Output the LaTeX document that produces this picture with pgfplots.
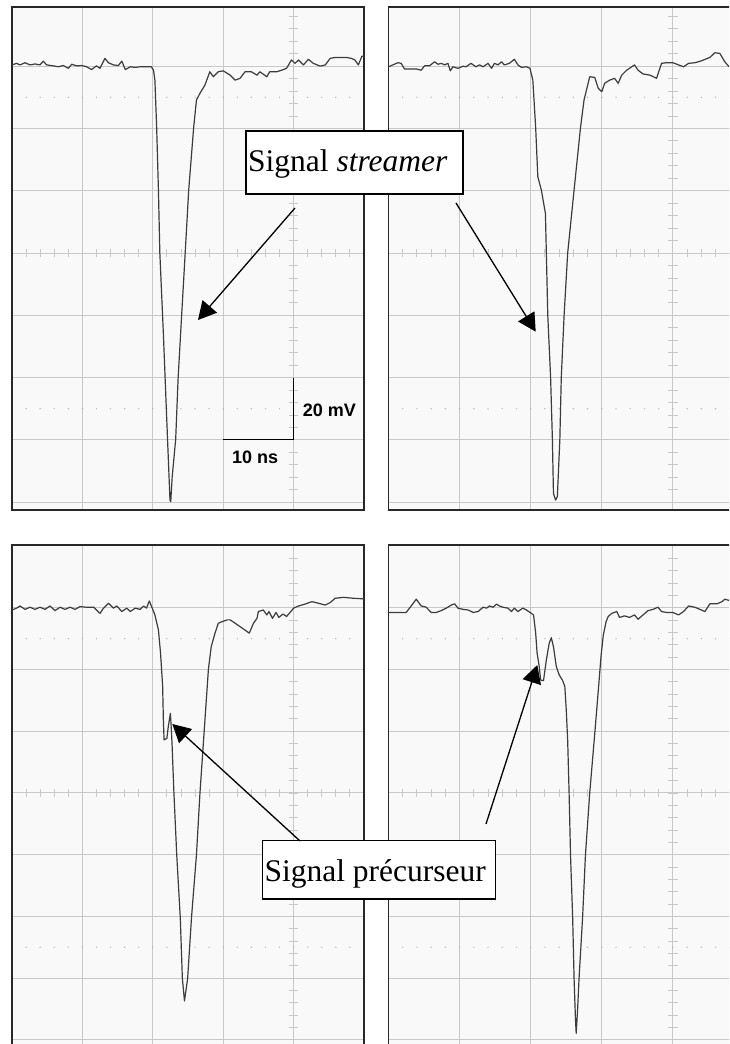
\documentclass[border=0pt]{standalone}
\usepackage{fontspec}
\setmainfont{Liberation Serif}
\setsansfont{Liberation Sans}
\usepackage{pgfplots}
\pgfplotsset{compat=1.18}
\usetikzlibrary{arrows.meta}
\definecolor{bgcol}{RGB}{249,249,249}
\definecolor{gridcol}{RGB}{200,200,200}
\definecolor{dotcol}{RGB}{175,175,175}
\definecolor{framecol}{RGB}{40,40,40}
\definecolor{tracecol}{RGB}{60,60,60}
\newcommand\scopedeco{%
  \pgfplotsinvokeforeach{2,4,...,48}{%
    \draw[gridcol, line width=0.9pt] (axis cs:##1,-1.3) -- (axis cs:##1,1.3);
    \fill[dotcol] (axis cs:##1,50) circle[radius=0.7pt];
    \fill[dotcol] (axis cs:##1,-50) circle[radius=0.7pt];
  }%
  \pgfplotsinvokeforeach{-80,-76,...,76}{%
    \draw[gridcol, line width=0.9pt] (axis cs:39.35,##1) -- (axis cs:40.65,##1);
  }%
}
\pgfplotsset{scopeaxis/.style={
  scale only axis, anchor=south west,
  xmin=0, xmax=50,
  xtick={10,20,30,40}, ytick={-80,-60,-40,-20,0,20,40,60},
  xticklabels={}, yticklabels={},
  major tick length=0pt,
  grid=major, major grid style={draw=gridcol, line width=1pt},
  axis background/.style={fill=bgcol},
  axis line style={draw=framecol, line width=1.6pt},
  clip=true,
}}
\tikzset{trace/.style={draw=tracecol, line width=1.2pt, line join=round}}
\begin{document}
\begin{tikzpicture}[x=1pt,y=1pt]
\useasboundingbox (0,0) rectangle (729,1044);
\begin{scope}
\clip (0,0) rectangle (729,1044);
% Panel 1 (top left)
\begin{axis}[scopeaxis, at={(12pt,534pt)}, width=352pt, height=503pt, ymin=-82.5, ymax=79]
\scopedeco
\addplot[trace] coordinates {(0,60.4)(0.66,60.9)(1.14,60.4)(1.85,61.1)(2.56,60.4)(3.27,60.7)(3.98,60.4)(4.45,61.6)(4.92,60.4)(5.87,60.1)(6.58,59.8)(7.29,60.2)(8.0,59.3)(8.48,60.6)(9.19,60.1)(9.9,60.2)(10.6,59.8)(11.3,58.9)(12.0,60.1)(12.5,59.3)(13.2,62.5)(13.7,61.1)(14.4,60.4)(15.1,60.2)(15.6,61.6)(16.1,58.9)(16.8,59.8)(17.5,59.6)(18.2,59.8)(19.1,59.8)(19.8,59.8)(20.1,58.7)(20.3,55.5)(20.55,40.2)(20.8,20.2)(21.0,0)(21.5,-25.8)(22.06,-57.9)(22.44,-79.3)(22.55,-79.8)(22.75,-72)(23.25,-59.8)(23.6,-40.0)(24.1,-19.9)(24.6,0)(25.1,20.2)(25.8,40.2)(26.2,49.1)(26.7,51.3)(27.4,53.9)(28.1,58.2)(28.6,56.6)(29.3,58.2)(30.0,58.5)(31.0,57.1)(31.7,55.5)(32.4,56.1)(33.1,58.2)(34.0,58.2)(34.8,57.1)(35.2,58.2)(36.2,56.6)(36.6,58.2)(37.6,58.2)(38.3,58.7)(39.0,59.3)(39.7,62.0)(40.2,60.9)(40.7,62.0)(41.4,60.4)(42.1,62.2)(42.8,60.9)(43.8,60.0)(44.5,60.4)(45.2,62.5)(45.9,62.8)(46.6,62.8)(47.5,62.8)(48.2,62.5)(48.7,62.0)(49.2,60.4)(49.7,63.2)(50.0,63.2)};
\draw[black, line width=1pt] (axis cs:40,-40) -- (axis cs:40,-60) -- (axis cs:30,-60);
\node[anchor=west, inner sep=0pt, font=\sffamily\bfseries\fontsize{18}{20}\selectfont] at (axis cs:41.3,-50.4) {20 mV};
\node[anchor=west, inner sep=0pt, font=\sffamily\bfseries\fontsize{18}{20}\selectfont] at (axis cs:31.25,-65.5) {10 ns};
\end{axis}
% Panel 2 (top right)
\begin{axis}[scopeaxis, at={(388.5pt,534pt)}, width=355.5pt, height=503pt, ymin=-82.5, ymax=79]
\scopedeco
\addplot[trace] coordinates {(0,59.8)(0.61,60.4)(1.31,61.1)(1.78,60.9)(2.25,59.1)(2.96,59.1)(3.9,59.1)(4.6,58.7)(5.07,60.1)(5.77,60.1)(6.48,61.4)(6.95,60.6)(7.42,60.9)(7.89,60.4)(8.36,60.9)(8.69,58.5)(9.06,59.8)(9.77,59.3)(10.5,60.0)(10.9,59.8)(11.6,60.9)(12.3,59.8)(12.8,60.4)(13.3,59.8)(14.0,60.9)(14.5,59.3)(14.9,60.9)(15.4,60.4)(15.9,61.4)(16.3,60.4)(17.0,60.9)(17.7,62.2)(18.2,60.4)(18.7,59.6)(19.4,59.8)(19.9,59.3)(20.3,55.5)(20.7,40.2)(21.0,24.5)(21.5,20.2)(22.07,12.7)(22.2,0)(22.4,-19.9)(22.8,-40.0)(23.05,-59.8)(23.2,-77.2)(23.5,-79.3)(23.75,-78.2)(24.1,-59.8)(24.3,-40.0)(24.7,-19.9)(25.2,0)(26.1,20.2)(27.0,40.2)(27.5,49.1)(28.3,56.6)(29.0,56.4)(29.5,52.9)(30.0,51.8)(30.4,54.5)(31.1,55.5)(31.8,56.1)(32.3,54.5)(32.8,57.1)(33.5,58.7)(33.9,59.3)(34.6,60.4)(35.1,58.7)(35.8,57.5)(36.8,57.1)(37.7,56.1)(38.4,60.9)(39.1,61.1)(40.0,61.1)(40.8,60.4)(41.5,59.8)(42.2,60.9)(43.1,61.1)(44.0,61.7)(45.2,62.8)(45.9,64.3)(46.6,64.1)(47.3,61.4)(47.9,59.8)(50,59.5)};
\end{axis}
% Panel 3 (bottom left)
\begin{axis}[scopeaxis, at={(12pt,-3.5pt)}, width=352pt, height=502.6pt, ymin=-82.5, ymax=80.4]
\scopedeco
\addplot[trace] coordinates {(0,59.3)(0.66,59.9)(1.14,60.6)(1.85,59.5)(2.56,60.2)(3.27,59.5)(3.98,60.2)(4.69,59.5)(5.4,60.6)(6.11,59.1)(6.82,60.2)(7.53,59.5)(8.24,60.2)(8.95,59.5)(9.66,60.4)(10.6,60.2)(11.6,60.2)(12.5,58.2)(13.0,59.9)(13.7,61.5)(14.4,59.9)(14.9,60.6)(15.6,58.8)(16.3,59.9)(16.8,58.8)(17.5,59.9)(18.2,59.5)(18.7,60.6)(19.1,59.9)(19.5,62.2)(19.8,60.6)(20.3,57.7)(20.8,52.8)(21.1,45.3)(21.4,34.5)(21.5,23.7)(21.6,17.2)(22.0,17.7)(22.2,21.5)(22.5,25.8)(22.65,20)(22.75,15)(23.0,0)(23.4,-20.1)(23.9,-40.3)(24.2,-60.1)(24.5,-67.4)(24.95,-60.1)(25.5,-40.3)(26.2,-20.1)(26.7,0)(27.3,20.1)(27.9,40.1)(28.3,47.4)(28.8,51.5)(29.3,55.0)(29.8,55.5)(30.6,56.1)(31.0,56.1)(31.7,55.0)(32.4,53.9)(33.1,52.8)(33.7,51.8)(34.3,55.0)(34.8,56.6)(35.0,58.8)(35.7,59.3)(36.2,57.7)(36.5,58.8)(37.0,56.6)(37.5,58.5)(37.9,56.9)(38.5,58.0)(39.0,57.2)(39.5,58.5)(40.0,59.9)(40.7,60.6)(41.6,61.2)(42.6,62.0)(43.5,61.5)(44.5,60.9)(45.2,61.7)(45.9,63.1)(47.1,63.4)(48.5,63.1)(50.0,62.9)};
\end{axis}
% Panel 4 (bottom right)
\begin{axis}[scopeaxis, at={(388.5pt,-3.5pt)}, width=355.5pt, height=502.6pt, ymin=-82.5, ymax=80.4]
\scopedeco
\addplot[trace] coordinates {(0,58.5)(1.08,58.5)(2.49,58.5)(3.19,60.6)(3.9,62.8)(4.6,60.6)(5.3,60.2)(6.0,58.5)(6.71,58.5)(7.42,59.1)(8.12,59.9)(8.83,60.9)(9.3,61.3)(9.77,59.9)(10.5,59.5)(11.2,59.3)(11.9,58.5)(12.6,58.8)(13.3,60.2)(13.8,59.9)(14.2,60.6)(14.7,60.2)(15.2,61.2)(15.6,60.6)(16.1,60.2)(16.8,59.9)(17.3,58.8)(17.7,59.9)(18.2,58.8)(18.9,59.9)(19.4,59.3)(20.1,58.2)(20.4,57.7)(20.7,51.8)(20.9,45.3)(21.2,41.0)(21.4,36.6)(21.8,36.4)(22.2,43.1)(22.6,48.5)(22.9,50.3)(23.2,47.4)(23.6,41.0)(24.0,38.3)(24.5,36.4)(24.8,34.5)(25.0,27)(25.2,17)(25.4,0)(25.6,-20.1)(25.9,-40.3)(26.1,-60.1)(26.3,-73.6)(26.4,-77.9)(26.6,-70)(26.8,-60.1)(27.3,-40.3)(27.7,-20.1)(28.3,0)(29.0,19)(29.5,33)(29.9,44.5)(30.2,51)(30.6,55.5)(30.9,57.2)(31.4,58.2)(32.1,58.8)(32.5,56.9)(33.2,57.4)(33.9,56.9)(34.6,57.7)(35.1,56.3)(35.8,57.7)(36.5,59.1)(37.2,59.5)(37.9,60.2)(38.4,58.8)(39.1,58.5)(40.0,58.5)(40.8,57.7)(41.5,58.8)(42.2,60.6)(43.1,60.2)(43.8,59.5)(44.5,58.8)(45.2,61.3)(46.2,61.3)(46.9,62.0)(47.3,62.8)(47.9,62.4)(50,62)};
\end{axis}
% Annotations
\draw[line width=1.2pt, fill=white] (246,850) rectangle (463,913);
\node[anchor=base west, inner sep=0pt, font=\fontsize{31.5}{36}\selectfont] at (248,872.3) {Signal \textit{streamer}};
\draw[line width=1.2pt, fill=white] (262.3,145) rectangle (495.7,203.3);
\node[anchor=base west, inner sep=0pt, font=\fontsize{31.5}{36}\selectfont] at (264.3,162.3) {Signal précurseur};
\draw[line width=1.3pt, -{Triangle[length=18pt,width=19pt]}] (295,836) -- (198,724);
\draw[line width=1.3pt, -{Triangle[length=18pt,width=19pt]}] (456,841) -- (535.7,712.3);
\draw[line width=1.3pt, -{Triangle[length=18pt,width=19pt]}] (300,203) -- (172.3,320);
\draw[line width=1.3pt, -{Triangle[length=18pt,width=19pt]}] (486,220) -- (537.3,379);
\end{scope}
\end{tikzpicture}
\end{document}
